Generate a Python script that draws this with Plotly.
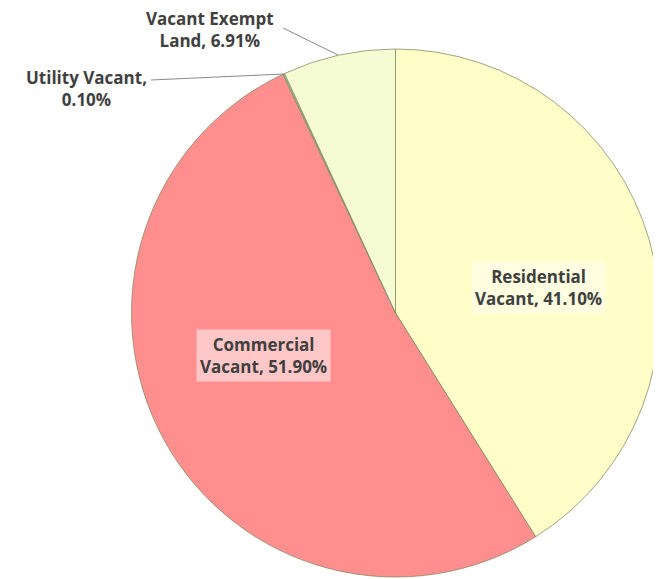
import plotly.graph_objects as go

categories = ["Residential Vacant", "Commercial Vacant", "Utility Vacant", "Vacant Exempt Land"]
label_text = ["Residential<br>Vacant", "Commercial<br>Vacant", "Utility Vacant,<br>", "Vacant Exempt<br>Land"]
values = [41.10, 51.90, 0.10, 6.91]
colors = ["#FFFDC8", "#FF8F8F", "#9CC48A", "#F5FCD4"]

# the page body has an 8px margin; work in window pixel coords and convert
OFF = 8
W, H = 661 - OFF, 579 - OFF

def px(x):
    return (x - OFF) / W

def py(y):
    return 1 - (y - OFF) / H

# pie pixel box (window coords)
x0, x1, y_top, y_bot = 130, 661, 49, 577

fig = go.Figure()
fig.add_trace(go.Pie(
    labels=categories, values=values, sort=False, direction="clockwise",
    rotation=0, textinfo="none", hoverinfo="label+percent",
    marker=dict(colors=colors, line=dict(color="rgba(130,135,95,0.75)", width=1)),
    showlegend=False,
    domain=dict(x=[px(x0), min(px(x1), 1)], y=[max(py(y_bot), 0), py(y_top)]),
))

def txt(i):
    t = label_text[i]
    sep = "" if t.endswith("<br>") else ", "
    return f"<b>{t}{sep}{values[i]:.2f}%</b>"

font = dict(family="Open Sans", size=17, color="#404040")
common = dict(showarrow=False, font=font, align="center", xanchor="center", yanchor="middle",
              xref="paper", yref="paper")
ann = [
    dict(x=px(538), y=py(287), text=txt(0), bgcolor="rgba(255,255,255,0.45)", borderpad=3, **common),
    dict(x=px(263), y=py(355), text=txt(1), bgcolor="rgba(255,255,255,0.5)", borderpad=3, **common),
    dict(x=px(86), y=py(89), text=txt(2), **common),
    dict(x=px(210), y=py(30), text=txt(3), **common),
]

shapes = [
    dict(type="line", xref="paper", yref="paper", x0=px(151), y0=py(80), x1=px(284), y1=py(74),
         line=dict(color="#8a8a8a", width=1)),
    dict(type="line", xref="paper", yref="paper", x0=px(283), y0=py(28), x1=px(338), y1=py(55),
         line=dict(color="#8a8a8a", width=1)),
]

fig.update_layout(
    width=W, height=H, margin=dict(l=0, r=0, t=0, b=0),
    paper_bgcolor="white", plot_bgcolor="white",
    annotations=ann, shapes=shapes,
)
fig.write_html("out.html")
